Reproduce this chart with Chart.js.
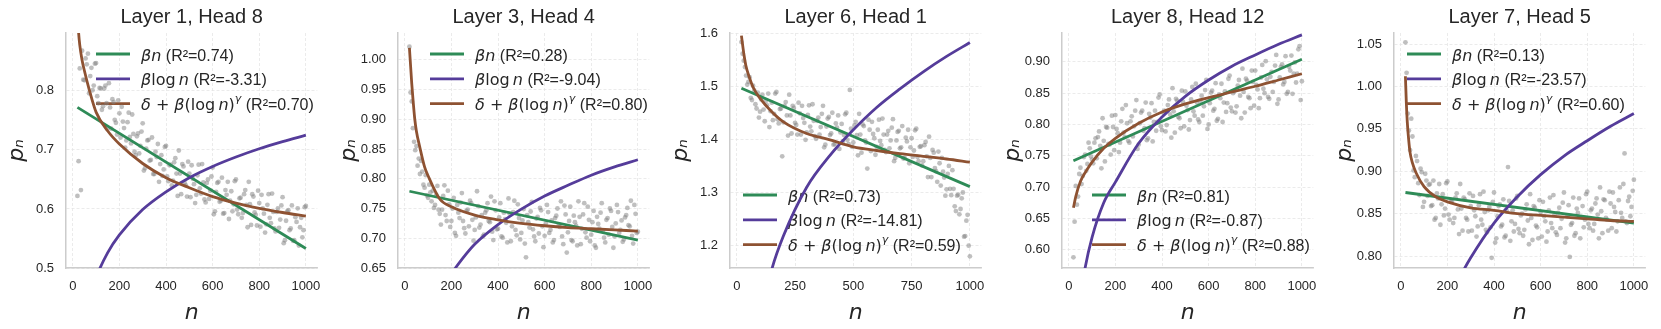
<!DOCTYPE html>
<html>
<head>
<meta charset="utf-8">
<script src="https://cdn.jsdelivr.net/npm/chart.js"></script>
<style>
  body { margin: 0; background: #fff; }
  #wrap { position: relative; width: 1661px; height: 329px; }
  #wrap canvas { position: absolute; top: 0; }
</style>
</head>
<body>
<div id="wrap"></div>
<script>
// ---- data ----
const titles = ['Layer 1, Head 8', 'Layer 3, Head 4', 'Layer 6, Head 1', 'Layer 8, Head 12', 'Layer 7, Head 5'];

// sequence positions of the sampled points
const nA = [20,30,40,50,60,70,80,90,100,110,120,130,140,150,160,170,180,190,200,210,220,230,240,250,260,270,280,290,300,310,320,330,340,350,360,370,380,390,400,410,420,430,440,450,460,470,480,490,500,510,520,530,540,550,560,570,580,590,600,610,620,630,640,650,660,670,680,690,700,710,720,730,740,750,760,770,780,790,800,810,820,830,840,850,860,870,880,890,900,910,920,930,940,950,960,970,980,990,1000];
const nB = [25,35,45,55,65,75,85,95,105,115,125,135,145,155,165,175,185,195,205,215,225,235,245,255,265,275,285,295,305,315,325,335,345,355,365,375,385,395,405,415,425,435,445,455,465,475,485,495,505,515,525,535,545,555,565,575,585,595,605,615,625,635,645,655,665,675,685,695,705,715,725,735,745,755,765,775,785,795,805,815,825,835,845,855,865,875,885,895,905,915,925,935,945,955,965,975,985,995];

// p_n samples, panel 1..5
const p1A = [0.622,0.838,0.868,0.818,0.845,0.796,0.839,0.809,0.847,0.779,0.804,0.774,0.809,0.737,0.772,0.786,0.751,0.726,0.762,0.773,0.737,0.716,0.763,0.711,0.727,0.691,0.728,0.707,0.745,0.669,0.716,0.682,0.721,0.659,0.688,0.646,0.691,0.667,0.707,0.647,0.675,0.648,0.686,0.622,0.660,0.676,0.644,0.621,0.660,0.674,0.642,0.624,0.675,0.626,0.645,0.611,0.650,0.631,0.670,0.596,0.644,0.612,0.653,0.593,0.624,0.583,0.630,0.608,0.650,0.591,0.619,0.593,0.632,0.569,0.608,0.625,0.594,0.572,0.610,0.624,0.592,0.574,0.625,0.576,0.595,0.562,0.601,0.582,0.620,0.547,0.596,0.564,0.606,0.547,0.578,0.538,0.585,0.564,0.605];
const p1B = [0.681,0.632,0.819,0.855,0.863,0.825,0.801,0.846,0.791,0.805,0.768,0.804,0.779,0.813,0.736,0.781,0.746,0.784,0.721,0.748,0.704,0.747,0.722,0.760,0.697,0.723,0.694,0.731,0.665,0.702,0.717,0.683,0.659,0.697,0.710,0.676,0.656,0.705,0.655,0.674,0.640,0.679,0.660,0.699,0.625,0.672,0.640,0.680,0.620,0.651,0.610,0.657,0.635,0.676,0.616,0.644,0.617,0.655,0.591,0.629,0.646,0.614,0.592,0.632,0.646,0.614,0.596,0.647,0.599,0.618,0.585,0.625,0.607,0.646,0.573,0.621,0.590,0.631,0.570,0.601,0.560,0.607,0.585,0.626,0.567,0.595,0.568,0.606,0.542,0.580,0.598,0.567,0.546,0.586,0.601,0.569,0.552,0.603];
const p2A = [1.022,0.930,0.862,0.855,0.834,0.830,0.790,0.806,0.768,0.777,0.780,0.756,0.788,0.741,0.748,0.789,0.729,0.757,0.729,0.768,0.704,0.743,0.760,0.729,0.708,0.748,0.763,0.731,0.714,0.779,0.718,0.739,0.706,0.747,0.729,0.770,0.697,0.747,0.716,0.759,0.701,0.732,0.693,0.741,0.720,0.763,0.705,0.734,0.709,0.749,0.668,0.727,0.745,0.715,0.695,0.736,0.751,0.720,0.704,0.756,0.709,0.730,0.697,0.738,0.721,0.762,0.690,0.740,0.710,0.753,0.695,0.727,0.688,0.736,0.716,0.759,0.701,0.731,0.706,0.746,0.684,0.724,0.743,0.713,0.693,0.734,0.750,0.719,0.703,0.756,0.709,0.730,0.698,0.739,0.722,0.763,0.691,0.741,0.711];
const p2B = [0.945,0.885,0.848,0.822,0.808,0.812,0.785,0.772,0.790,0.762,0.751,0.773,0.748,0.723,0.771,0.739,0.780,0.719,0.750,0.709,0.756,0.734,0.776,0.717,0.746,0.720,0.759,0.696,0.735,0.754,0.723,0.703,0.743,0.759,0.727,0.711,0.762,0.715,0.735,0.703,0.743,0.726,0.767,0.695,0.744,0.714,0.757,0.698,0.730,0.691,0.739,0.718,0.761,0.703,0.733,0.708,0.747,0.685,0.725,0.744,0.714,0.693,0.734,0.750,0.719,0.703,0.755,0.676,0.729,0.697,0.738,0.721,0.762,0.690,0.740,0.710,0.753,0.695,0.727,0.688,0.736,0.716,0.759,0.701,0.731,0.706,0.746,0.684,0.725,0.744,0.714,0.694,0.735,0.751,0.720,0.704,0.756,0.709];
const p3A = [1.583,1.548,1.520,1.508,1.478,1.501,1.466,1.488,1.452,1.484,1.434,1.464,1.423,1.469,1.448,1.489,1.430,1.458,1.432,1.470,1.407,1.445,1.463,1.431,1.409,1.449,1.463,1.431,1.413,1.464,1.415,1.435,1.401,1.441,1.423,1.463,1.390,1.439,1.408,1.450,1.391,1.422,1.382,1.429,1.408,1.450,1.391,1.420,1.394,1.433,1.370,1.409,1.428,1.398,1.345,1.418,1.433,1.402,1.386,1.437,1.389,1.409,1.376,1.416,1.398,1.438,1.365,1.414,1.383,1.425,1.365,1.396,1.355,1.402,1.379,1.420,1.359,1.387,1.359,1.395,1.329,1.365,1.380,1.346,1.320,1.355,1.365,1.328,1.306,1.350,1.295,1.307,1.265,1.296,1.269,1.300,1.218,1.258,1.180];
const p3B = [1.561,1.536,1.503,1.517,1.474,1.492,1.458,1.441,1.475,1.456,1.472,1.486,1.453,1.436,1.486,1.438,1.457,1.368,1.463,1.445,1.484,1.411,1.459,1.427,1.469,1.409,1.440,1.399,1.446,1.424,1.466,1.406,1.435,1.409,1.448,1.385,1.424,1.442,1.411,1.390,1.430,1.445,1.413,1.396,1.447,1.399,1.493,1.386,1.426,1.408,1.448,1.375,1.425,1.394,1.437,1.378,1.410,1.371,1.418,1.397,1.439,1.380,1.409,1.383,1.422,1.359,1.398,1.416,1.385,1.364,1.403,1.418,1.385,1.367,1.417,1.367,1.386,1.351,1.389,1.368,1.405,1.329,1.375,1.340,1.377,1.313,1.339,1.294,1.335,1.307,1.342,1.274,1.294,1.259,1.289,1.217,1.247,1.200];
const p4A = [0.588,0.702,0.685,0.731,0.718,0.752,0.737,0.762,0.744,0.771,0.746,0.789,0.730,0.774,0.796,0.769,0.752,0.796,0.815,0.786,0.771,0.825,0.780,0.802,0.771,0.813,0.797,0.839,0.768,0.819,0.790,0.835,0.778,0.811,0.773,0.822,0.804,0.848,0.791,0.822,0.799,0.840,0.779,0.821,0.841,0.812,0.794,0.836,0.853,0.823,0.807,0.860,0.814,0.835,0.804,0.846,0.829,0.871,0.800,0.851,0.822,0.866,0.809,0.842,0.804,0.853,0.834,0.878,0.821,0.853,0.829,0.871,0.810,0.852,0.873,0.844,0.826,0.868,0.886,0.856,0.842,0.895,0.850,0.872,0.841,0.884,0.868,0.911,0.840,0.892,0.864,0.909,0.852,0.886,0.849,0.899,0.881,0.925,0.869];
const p4B = [0.645,0.672,0.721,0.705,0.748,0.726,0.771,0.749,0.738,0.778,0.780,0.766,0.810,0.741,0.795,0.768,0.814,0.759,0.793,0.756,0.805,0.787,0.831,0.774,0.805,0.781,0.822,0.761,0.802,0.822,0.794,0.775,0.817,0.834,0.804,0.790,0.843,0.797,0.819,0.789,0.831,0.816,0.858,0.787,0.838,0.810,0.854,0.797,0.830,0.792,0.840,0.821,0.865,0.808,0.838,0.814,0.855,0.793,0.834,0.854,0.825,0.806,0.848,0.865,0.835,0.820,0.873,0.827,0.850,0.819,0.862,0.846,0.889,0.819,0.870,0.842,0.886,0.830,0.863,0.826,0.875,0.857,0.901,0.844,0.876,0.852,0.894,0.833,0.875,0.896,0.868,0.849,0.892,0.910,0.881,0.867,0.920,0.839];
const p5A = [1.052,0.968,0.925,0.941,0.893,0.912,0.872,0.899,0.864,0.889,0.884,0.859,0.889,0.845,0.868,0.837,0.873,0.856,0.888,0.843,0.865,0.845,0.874,0.826,0.856,0.869,0.845,0.829,0.859,0.871,0.847,0.835,0.873,0.837,0.852,0.828,0.858,0.798,0.875,0.821,0.859,0.835,0.867,0.824,0.905,0.818,0.854,0.838,0.871,0.827,0.850,0.831,0.861,0.814,0.845,0.859,0.836,0.821,0.852,0.864,0.841,0.829,0.869,0.833,0.849,0.825,0.857,0.844,0.875,0.821,0.860,0.837,0.869,0.827,0.851,0.821,0.859,0.843,0.876,0.833,0.856,0.838,0.868,0.821,0.853,0.867,0.845,0.830,0.862,0.875,0.852,0.841,0.881,0.845,0.921,0.839,0.870,0.858,0.890];
const p5B = [1.016,0.948,0.962,0.901,0.918,0.886,0.903,0.858,0.897,0.871,0.885,0.860,0.843,0.874,0.885,0.861,0.848,0.886,0.849,0.864,0.839,0.869,0.855,0.885,0.830,0.867,0.843,0.874,0.830,0.854,0.823,0.860,0.843,0.876,0.831,0.854,0.834,0.864,0.816,0.847,0.861,0.837,0.822,0.853,0.865,0.841,0.829,0.868,0.832,0.848,0.824,0.855,0.842,0.873,0.819,0.857,0.834,0.866,0.823,0.847,0.817,0.854,0.839,0.872,0.828,0.851,0.833,0.863,0.816,0.847,0.799,0.839,0.824,0.856,0.868,0.846,0.834,0.873,0.838,0.854,0.830,0.862,0.849,0.881,0.827,0.866,0.843,0.876,0.833,0.858,0.829,0.866,0.851,0.885,0.841,0.865,0.847,0.877];

// fitted curves: beta*n (linear), beta*log n, delta + beta*(log n)^gamma
const linN = [20, 1000];
const lin1 = [0.772, 0.533];
const lin2 = [0.779, 0.697];
const lin3 = [1.496, 1.311];
const lin4 = [0.742, 0.904];
const lin5 = [0.875, 0.839];

const logN1 = [20,50,80,100,150,200,300,400,500,600,700,800,900,1000];
const log1 = [0.315,0.411,0.460,0.484,0.526,0.556,0.599,0.629,0.653,0.672,0.688,0.702,0.714,0.725];
const logN2 = [100,150,200,250,300,400,500,600,700,800,900,1000];
const log2 = [0.558,0.606,0.640,0.667,0.690,0.723,0.749,0.771,0.789,0.806,0.820,0.832];
const logN3 = [100,150,200,300,400,500,600,700,800,900,1000];
const log3 = [1.060,1.155,1.218,1.310,1.370,1.418,1.460,1.495,1.527,1.556,1.582];
const logN4 = [50,70,100,150,200,300,400,500,600,700,800,900,1000];
const log4 = [0.524,0.571,0.620,0.675,0.708,0.770,0.812,0.845,0.871,0.893,0.911,0.928,0.943];
const logN5 = [200,250,300,400,500,600,700,800,900,1000];
const log5 = [0.741,0.773,0.798,0.839,0.870,0.896,0.918,0.936,0.953,0.968];

const powN1 = [20,25,30,40,50,70,100,150,200,300,400,500,600,700,800,900,1000];
const pow1 = [0.935,0.899,0.878,0.852,0.834,0.803,0.764,0.732,0.710,0.677,0.653,0.636,0.621,0.610,0.601,0.594,0.588];
const powN2 = [20,25,30,35,43,50,64,85,100,150,200,300,400,500,600,700,800,900,1000];
const pow2 = [1.020,0.990,0.960,0.935,0.900,0.880,0.854,0.820,0.805,0.766,0.753,0.739,0.731,0.725,0.721,0.718,0.716,0.714,0.712];
const powN3 = [20,30,40,50,70,100,150,200,300,400,500,600,700,800,900,1000];
const pow3 = [1.595,1.562,1.537,1.522,1.498,1.477,1.452,1.433,1.411,1.399,1.386,1.379,1.373,1.368,1.363,1.357];
const powN4 = [20,30,50,75,100,150,200,300,400,500,600,700,800,900,1000];
const pow4 = [0.667,0.685,0.709,0.726,0.740,0.762,0.778,0.802,0.820,0.833,0.843,0.852,0.861,0.871,0.881];
const powN5 = [20,24,28,34,40,50,66,100,150,200,300,400,500,600,700,800,900,1000];
const pow5 = [1.012,0.980,0.958,0.937,0.922,0.910,0.898,0.882,0.870,0.864,0.857,0.854,0.850,0.848,0.846,0.844,0.842,0.841];

// R² shown in the legends
const r2Lin = ['0.74', '0.28', '0.73', '0.81', '0.13'];
const r2Log = ['-3.31', '-9.04', '-14.81', '-0.87', '-23.57'];
const r2Pow = ['0.70', '0.80', '0.59', '0.88', '0.60'];

// axis ranges / ticks
const yMins = [0.5, 0.65, 1.158, 0.571, 0.786];
const yMaxs = [0.898, 1.045, 1.6, 0.946, 1.063];
const ySteps = [0.1, 0.05, 0.1, 0.05, 0.05];
const yDecimals = [1, 2, 1, 2, 2];
const xSteps = [200, 200, 250, 200, 200];

// ---- styling ----
const fitColors = ['#2e8b57', '#553c9a', '#8e5232'];
const textColor = '#262626';
const dotColor = 'rgba(128,128,128,0.5)';
const legendPos = [{x: 30, y: 21}, {x: 32, y: 21}, {x: 13, y: 162}, {x: 30, y: 162}, {x: 13, y: 21}];

const panels = [
  {A: p1A, B: p1B, lin: lin1, logN: logN1, log: log1, powN: powN1, pow: pow1},
  {A: p2A, B: p2B, lin: lin2, logN: logN2, log: log2, powN: powN2, pow: pow2},
  {A: p3A, B: p3B, lin: lin3, logN: logN3, log: log3, powN: powN3, pow: pow3},
  {A: p4A, B: p4B, lin: lin4, logN: logN4, log: log4, powN: powN4, pow: pow4},
  {A: p5A, B: p5B, lin: lin5, logN: logN5, log: log5, powN: powN5, pow: pow5}
];

const pts = (xs, ys) => xs.map((x, i) => ({x: x, y: ys[i]}));

const legendFonts = {
  i: 'italic 16px "DejaVu Sans"',
  m: '16px "DejaVu Sans"',
  r: '16px "Liberation Sans"',
  s: 'italic 11px "DejaVu Sans"'
};

function legendParts(a, b, c) {
  return [
    [['β', 'i'], ['n', 'i'], [' (R²=' + a + ')', 'r']],
    [['β', 'i'], ['log', 'm'], ['\u2009', 'm'], ['n', 'i'], [' (R²=' + b + ')', 'r']],
    [['δ', 'i'], [' + ', 'm'], ['β', 'i'], ['(log', 'm'], ['\u2009', 'm'], ['n', 'i'], [')', 'm'], ['γ', 's'], [' (R²=' + c + ')', 'r']]
  ];
}

// legend with mixed math/regular text, drawn under the curves like the original
const fitLegend = {
  id: 'fitLegend',
  beforeDatasetsDraw(chart, args, opts) {
    const ctx = chart.ctx;
    const area = chart.chartArea;
    const x0 = area.left + opts.x;
    const y0 = area.top + opts.y;
    opts.rows.forEach((parts, i) => {
      const y = y0 + i * 24.8;
      ctx.save();
      ctx.strokeStyle = fitColors[i];
      ctx.lineWidth = 2.8;
      ctx.beginPath();
      ctx.moveTo(x0, y);
      ctx.lineTo(x0 + 34, y);
      ctx.stroke();
      ctx.fillStyle = textColor;
      ctx.textBaseline = 'alphabetic';
      let x = x0 + 45;
      parts.forEach(p => {
        ctx.font = legendFonts[p[1]];
        ctx.fillText(p[0], x, p[1] === 's' ? y - 1.5 : y + 6.5);
        x += ctx.measureText(p[0]).width;
      });
      ctx.restore();
    });
  }
};

const wrap = document.getElementById('wrap');

panels.forEach((p, k) => {
  const canvas = document.createElement('canvas');
  canvas.width = 332;
  canvas.height = 329;
  canvas.style.left = (k * 332) + 'px';
  wrap.appendChild(canvas);

  const dec = yDecimals[k];
  const tickFont = {family: 'Liberation Sans', size: 13};

  new Chart(canvas.getContext('2d'), {
    type: 'scatter',
    data: {
      datasets: [
        {data: pts(nA, p.A), pointRadius: 2.4, pointBackgroundColor: dotColor, pointBorderWidth: 0, order: 5},
        {data: pts(nB, p.B), pointRadius: 2.4, pointBackgroundColor: dotColor, pointBorderWidth: 0, order: 5},
        {data: pts(linN, p.lin), showLine: true, borderColor: fitColors[0], borderWidth: 2.8, pointRadius: 0, order: 3},
        {data: pts(p.logN, p.log), showLine: true, borderColor: fitColors[1], borderWidth: 2.8, pointRadius: 0, cubicInterpolationMode: 'monotone', order: 2},
        {data: pts(p.powN, p.pow), showLine: true, borderColor: fitColors[2], borderWidth: 2.8, pointRadius: 0, cubicInterpolationMode: 'monotone', order: 1}
      ]
    },
    options: {
      responsive: false,
      animation: false,
      layout: {padding: {left: 0, right: 11, top: 0, bottom: 0}},
      plugins: {
        legend: {display: false},
        tooltip: {enabled: false},
        title: {
          display: true,
          fullSize: false,
          text: titles[k],
          color: textColor,
          font: {family: 'Liberation Sans', size: 20, weight: 'normal'},
          padding: {top: 5, bottom: 4}
        },
        fitLegend: {x: legendPos[k].x, y: legendPos[k].y, rows: legendParts(r2Lin[k], r2Log[k], r2Pow[k])}
      },
      scales: {
        x: {
          type: 'linear',
          min: -29,
          max: 1049,
          ticks: {stepSize: xSteps[k], includeBounds: false, maxRotation: 0, color: textColor, font: tickFont, padding: 11,
                  callback: v => String(v)},
          grid: {color: '#e6e6e6', lineWidth: 0.8, drawTicks: false},
          border: {display: true, color: '#cccccc', width: 1.5, dash: [3, 2]},
          title: {display: true, text: 'n', color: textColor, font: {family: 'DejaVu Sans', size: 22, style: 'italic'}, padding: {top: 0, bottom: 3}},
          afterFit(s) { s.height = 61; }
        },
        y: {
          min: yMins[k],
          max: yMaxs[k],
          ticks: {stepSize: ySteps[k], includeBounds: false, color: textColor, font: tickFont, padding: 12,
                  callback: v => v.toFixed(dec)},
          grid: {color: '#e6e6e6', lineWidth: 0.8, drawTicks: false},
          border: {display: true, color: '#cccccc', width: 1.5, dash: [3, 2]},
          title: {display: true, text: 'pₙ', color: textColor, font: {family: 'DejaVu Sans', size: 22, style: 'italic'}, padding: {top: 4, bottom: 0}},
          afterFit(s) { s.width = 66; }
        }
      }
    },
    plugins: [fitLegend]
  });
});
</script>
</body>
</html>
